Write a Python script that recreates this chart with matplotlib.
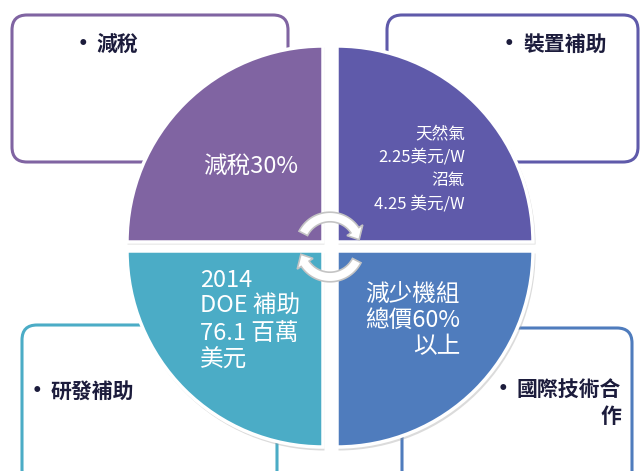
import numpy as np
import matplotlib.pyplot as plt
from matplotlib.patches import Wedge, FancyBboxPatch, Polygon

plt.rcParams['font.family'] = ['Noto Sans CJK TC', 'DejaVu Sans']

# quadrant contents (TL, TR, BL, BR)
quad_labels = ['減稅30%',
               '天然氣\n2.25美元/W\n沼氣\n4.25 美元/W',
               '2014\nDOE 補助\n76.1 百萬\n美元',
               '減少機組\n總價60%\n以上']
quad_colors = ['#8064A2', '#5F5AAA', '#4BACC6', '#4F7CBD']

# side boxes
box_labels = ['減稅', '裝置補助', '研發補助', '國際技術合\n作']
box_colors = ['#8064A2', '#5F5AAA', '#4BACC6', '#4F7CBD']

W, H = 640, 471
fig = plt.figure(figsize=(6.4, 4.71), dpi=100)
ax = fig.add_axes([0, 0, 1, 1])
ax.set_xlim(0, W)
ax.set_ylim(H, 0)
ax.axis('off')

# boxes behind the circle
box_rects = [(12, 15, 276, 147), (387, 15, 251, 147),
             (22, 325, 255, 160), (402, 328, 230, 160)]
for (x, y, w, h), c in zip(box_rects, box_colors):
    ax.add_patch(FancyBboxPatch((x, y), w, h, boxstyle='round,pad=0,rounding_size=15',
                                facecolor='white', edgecolor=c, linewidth=2.2, zorder=1))

txt_col = '#1c1c3c'
# bullet x, text x, y, alignment
box_text_pos = [(83, 96, 44, 'left'), (509, 607, 44, 'right'),
                (37, 51, 391, 'left'), (503, 621, 403, 'right')]
bullet_y = [44, 44, 391, 389]
for lab, (bx, tx, ty, ha), by in zip(box_labels, box_text_pos, bullet_y):
    ax.text(bx, by, '•', fontsize=12, fontweight='bold', color=txt_col, family='DejaVu Sans',
            ha='center', va='center', zorder=2)
    ax.text(tx, ty, lab, fontsize=15, fontweight='bold', color=txt_col, ha=ha, va='center',
            multialignment=ha, linespacing=1.35, zorder=2)

# quadrants (y axis inverted: angles in data space)
r = 196
corners = [(323, 242), (337, 242), (323, 251), (337, 251)]
angles = [(180, 270), (270, 360), (90, 180), (0, 90)]
for (cx, cy), (a1, a2), c in zip(corners, angles, quad_colors):
    ax.add_patch(Wedge((cx + 1.5, cy + 2.5), r + 1, a1, a2, facecolor='#999999',
                       edgecolor='none', alpha=0.35, zorder=3))
    ax.add_patch(Wedge((cx, cy), r, a1, a2, facecolor=c, edgecolor='white',
                       linewidth=2.5, zorder=4))

ax.text(298, 166, quad_labels[0], fontsize=17, color='white', ha='right', va='center', zorder=5)
ax.text(465, 169, quad_labels[1], fontsize=12, color='white', ha='right', va='center',
        multialignment='right', linespacing=1.5, zorder=5)
ax.text(200, 320, quad_labels[2], fontsize=17, color='white', ha='left', va='center',
        multialignment='left', linespacing=1.2, zorder=5)
ax.text(460, 320, quad_labels[3], fontsize=17, color='white', ha='right', va='center',
        multialignment='right', linespacing=1.17, zorder=5)


# circular arrows in the centre
def arc_arrow(cx, cy, rad, t0, t1, tip):
    band, head = 4.8, 9.5
    ts = np.radians(np.linspace(t0, t1, 40))
    outer = [(cx + (rad + band) * np.cos(t), cy - (rad + band) * np.sin(t)) for t in ts]
    inner = [(cx + (rad - band) * np.cos(t), cy - (rad - band) * np.sin(t)) for t in ts[::-1]]
    te, tt = np.radians(t1), np.radians(tip)
    hd = [(cx + (rad + head) * np.cos(te), cy - (rad + head) * np.sin(te)),
          (cx + rad * np.cos(tt), cy - rad * np.sin(tt)),
          (cx + (rad - head) * np.cos(te), cy - (rad - head) * np.sin(te))]
    pts = outer + hd + inner
    ax.add_patch(Polygon(pts, closed=True, facecolor='white', edgecolor='#c4c4c4',
                         linewidth=1.2, zorder=6))


arc_arrow(330, 247, 30, 153, 34, 14)
arc_arrow(330, 247, 30, -27, -146, -166)

fig.savefig('out.png', dpi=100)
